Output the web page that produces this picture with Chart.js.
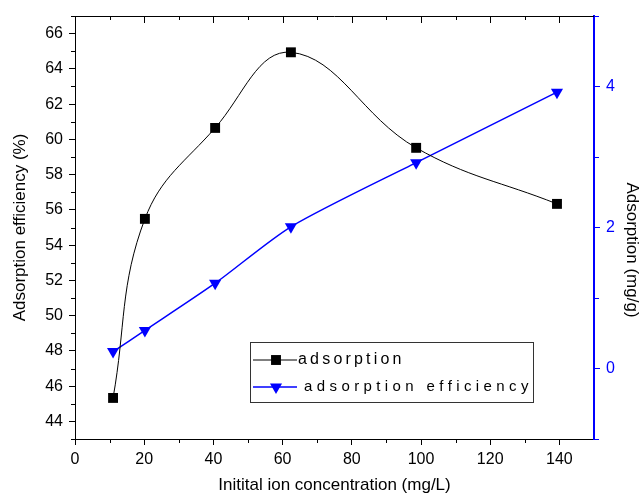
<!DOCTYPE html>
<html>
<head>
<meta charset="utf-8">
<script src="https://cdn.jsdelivr.net/npm/chart.js@4.4.0/dist/chart.umd.min.js"></script>
<style>
  html, body { margin: 0; padding: 0; background: #fff; }
  #chart { display: block; }
</style>
</head>
<body>
<canvas id="chart" width="640" height="496"></canvas>
<script>
// Values
const concentration = [11, 20.2, 40.5, 62.4, 98.6, 139.3];
const adsorptionEff = [45.33, 55.49, 60.65, 64.94, 59.52, 56.34]; // left axis (%)
const adsorptionCap = [0.24, 0.54, 1.21, 2.01, 2.92, 3.92];       // right axis (mg/g)

const seriesLabels = ['adsorption', 'adsorption efficiency'];

// Axis ticks
const xTicks = [0, 20, 40, 60, 80, 100, 120, 140];
const xMinor = [10, 30, 50, 70, 90, 110, 130];
const leftTicks = [44, 46, 48, 50, 52, 54, 56, 58, 60, 62, 64, 66];
const leftMinor = [43, 45, 47, 49, 51, 53, 55, 57, 59, 61, 63, 65, 67];
const rightTicks = [0, 2, 4];
const rightMinor = [-1, 1, 3, 5];

const BLUE = '#0000ff';
const FONT = '"Liberation Sans", Arial, Helvetica, sans-serif';

Chart.defaults.font.family = FONT;
Chart.defaults.font.size = 16;
Chart.defaults.color = '#000';

function pts(xs, ys) {
    return xs.map((v, i) => ({ x: v, y: ys[i] }));
}

// minor ticks, top frame, legend box and right-hand title
const extras = {
    id: 'extras',
    afterDraw(chart) {
        const ctx = chart.ctx;
        const { x, y, y1 } = chart.scales;
        const a = chart.chartArea;
        const px = v => Math.round(x.getPixelForValue(v)) + 0.5;
        const pyl = v => Math.round(y.getPixelForValue(v)) + 0.5;
        const pyr = v => Math.round(y1.getPixelForValue(v)) + 0.5;

        ctx.save();
        ctx.lineWidth = 1;
        ctx.strokeStyle = '#000';
        ctx.beginPath();
        // top frame
        ctx.moveTo(a.left, Math.round(a.top) + 0.5);
        ctx.lineTo(a.right, Math.round(a.top) + 0.5);
        xTicks.forEach(v => { ctx.moveTo(px(v), a.top); ctx.lineTo(px(v), a.top + 7); });
        xMinor.forEach(v => { ctx.moveTo(px(v), a.top); ctx.lineTo(px(v), a.top + 4); });
        // bottom + left minor ticks
        xMinor.forEach(v => { ctx.moveTo(px(v), a.bottom); ctx.lineTo(px(v), a.bottom + 4); });
        leftMinor.forEach(v => { ctx.moveTo(a.left, pyl(v)); ctx.lineTo(a.left - 4, pyl(v)); });
        ctx.stroke();

        ctx.strokeStyle = BLUE;
        ctx.beginPath();
        rightMinor.forEach(v => { ctx.moveTo(a.right, pyr(v)); ctx.lineTo(a.right + 5, pyr(v)); });
        ctx.stroke();

        // legend
        const box = { left: 250.5, top: 342.5, w: 283, h: 60 };
        ctx.fillStyle = '#fff';
        ctx.fillRect(box.left, box.top, box.w, box.h);
        ctx.strokeStyle = '#333';
        ctx.strokeRect(box.left, box.top, box.w, box.h);
        const rows = [
            { y: 360, textX: 298, size: 16, spacing: '3.2px' },
            { y: 387, textX: 304, size: 15, spacing: '4.4px' }
        ];
        chart.data.datasets.forEach((ds, i) => {
            const r = rows[i];
            ctx.strokeStyle = ds.borderColor;
            ctx.lineWidth = ds.borderWidth;
            ctx.beginPath();
            ctx.moveTo(253, r.y);
            ctx.lineTo(297, r.y);
            ctx.stroke();
            ctx.fillStyle = ds.backgroundColor;
            Chart.helpers.drawPoint(ctx, {
                pointStyle: ds.pointStyle,
                rotation: ds.pointRotation || 0,
                radius: ds.pointRadius,
                borderWidth: 0
            }, 276, r.y);
            ctx.fillStyle = '#000';
            ctx.font = r.size + 'px ' + FONT;
            ctx.letterSpacing = r.spacing;
            ctx.textBaseline = 'middle';
            ctx.textAlign = 'left';
            ctx.fillText(ds.label, r.textX, r.y);
        });
        ctx.letterSpacing = '0px';

        // right axis title
        ctx.translate(632, 250);
        ctx.rotate(Math.PI / 2);
        ctx.font = '17px ' + FONT;
        ctx.fillStyle = '#000';
        ctx.textAlign = 'center';
        ctx.textBaseline = 'middle';
        ctx.fillText('Adsorption (mg/g)', 0, 0);
        ctx.restore();
    }
};

new Chart(document.getElementById('chart'), {
    type: 'line',
    data: {
        datasets: [{
            label: seriesLabels[0],
            data: pts(concentration, adsorptionEff),
            yAxisID: 'y',
            borderColor: '#000',
            backgroundColor: '#000',
            borderWidth: 1,
            tension: 0.4,
            pointStyle: 'rect',
            pointRadius: 7,
            pointBorderWidth: 0
        }, {
            label: seriesLabels[1],
            data: pts(concentration, adsorptionCap),
            yAxisID: 'y1',
            borderColor: BLUE,
            backgroundColor: BLUE,
            borderWidth: 1.5,
            tension: 0.25,
            pointStyle: 'triangle',
            pointRotation: 180,
            pointRadius: 7,
            pointBorderWidth: 0
        }]
    },
    options: {
        responsive: false,
        devicePixelRatio: 1,
        animation: false,
        events: [],
        layout: { padding: { top: 16, left: 0, right: 0, bottom: 0 } },
        plugins: {
            legend: { display: false },
            tooltip: { enabled: false }
        },
        scales: {
            x: {
                type: 'linear',
                min: 0,
                max: 150,
                afterBuildTicks: s => { s.ticks = xTicks.map(v => ({ value: v })); },
                afterFit: s => { s.height = 57; },
                grid: { drawOnChartArea: false, tickLength: 6, tickColor: '#000' },
                border: { color: '#000', width: 1 },
                ticks: { padding: 5, maxRotation: 0 },
                title: {
                    display: true,
                    text: 'Initital ion concentration (mg/L)',
                    font: { size: 17 },
                    padding: { top: 0, bottom: 0 }
                }
            },
            y: {
                position: 'left',
                min: 43,
                max: 67,
                afterBuildTicks: s => { s.ticks = leftTicks.map(v => ({ value: v })); },
                afterFit: s => { s.width = 75; },
                grid: { drawOnChartArea: false, tickLength: 6, tickColor: '#000' },
                border: { color: '#000', width: 1 },
                ticks: { padding: 6 },
                title: {
                    display: true,
                    text: 'Adsorption efficiency (%)',
                    font: { size: 17 },
                    padding: { top: 10, bottom: 0 }
                }
            },
            y1: {
                position: 'right',
                min: -1,
                max: 5,
                afterBuildTicks: s => { s.ticks = rightTicks.map(v => ({ value: v })); },
                afterFit: s => { s.width = 46; },
                grid: { drawOnChartArea: false, tickLength: 6, tickColor: BLUE },
                border: { color: BLUE, width: 2 },
                ticks: { color: BLUE, padding: 6 }
            }
        }
    },
    plugins: [extras]
});
</script>
</body>
</html>
